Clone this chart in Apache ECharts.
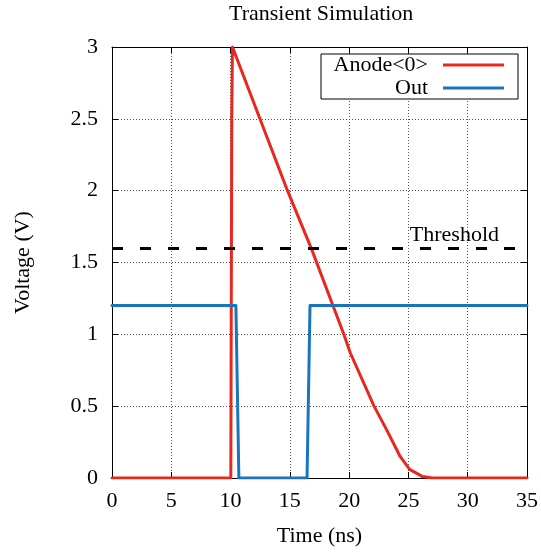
<!DOCTYPE html>
<html>
<head>
<meta charset="utf-8">
<script src="https://cdn.jsdelivr.net/npm/echarts@6/dist/echarts.min.js"></script>
<style>
  html, body { margin: 0; padding: 0; background: #fff; }
  #chart { width: 541px; height: 552px; }
</style>
</head>
<body>
<div id="chart"></div>
<script>
// values
const xTicks = [0, 5, 10, 15, 20, 25, 30, 35];
const yTicks = [0, 0.5, 1, 1.5, 2, 2.5, 3];

const anodeTime = [0, 10.02, 10.1, 10.16, 14.8, 16.8, 19.55, 20.1, 22.1, 23.2, 24.3, 25.1, 26.2, 27, 35];
const anodeVolt = [0, 0, 2.5, 3.0, 2.0, 1.6, 1.0, 0.87, 0.5, 0.33, 0.15, 0.06, 0.01, 0, 0];

const outTime = [0, 10.45, 10.7, 16.45, 16.7, 35];
const outVolt = [1.2, 1.2, 0, 0, 1.2, 1.2];

const thresholdVolt = 1.6;

const FONT = '"Liberation Serif", "Times New Roman", serif';
const FS = 22;

const chart = echarts.init(document.getElementById('chart'));

const pairs = (xs, ys) => xs.map((x, i) => [x, ys[i]]);

const baseAxis = {
    axisLine: { show: true, onZero: false, lineStyle: { color: '#000', width: 1 } },
    axisTick: { show: true, inside: true, length: 6, lineStyle: { color: '#000' } },
    axisLabel: { color: '#000', fontFamily: FONT, fontSize: FS }
};
const gridLines = { show: true, lineStyle: { color: '#555', type: [1, 2], width: 1 } };

chart.setOption({
    animation: false,
    backgroundColor: '#fff',
    title: {
        text: 'Transient Simulation',
        left: 229,
        top: 3,
        padding: 0,
        textStyle: { fontFamily: FONT, fontSize: FS, fontWeight: 'normal', color: '#000' }
    },
    grid: { left: 112, right: 11, top: 47, bottom: 74 },
    legend: {
        data: ['Anode<0>', 'Out'],
        orient: 'vertical',
        align: 'right',
        right: 23,
        top: 54,
        padding: [0, 14, 0, 11],
        itemGap: 1,
        icon: 'rect',
        itemWidth: 61,
        itemHeight: 3,
        borderColor: '#000',
        borderWidth: 1,
        backgroundColor: '#fff',
        formatter: name => '{t|' + name + '}',
        textStyle: {
            rich: {
                t: { width: 96, align: 'right', padding: [0, 10, 0, 0], fontFamily: FONT, fontSize: FS, color: '#000', lineHeight: 22 }
            }
        }
    },
    xAxis: [
        Object.assign({}, baseAxis, {
            type: 'value', min: xTicks[0], max: xTicks[xTicks.length - 1], interval: 5,
            position: 'bottom',
            name: 'Time (ns)', nameLocation: 'middle', nameGap: 47,
            nameTextStyle: { fontFamily: FONT, fontSize: FS, color: '#000' },
            axisLabel: Object.assign({}, baseAxis.axisLabel, { margin: 12 }),
            splitLine: gridLines
        }),
        Object.assign({}, baseAxis, {
            type: 'value', min: xTicks[0], max: xTicks[xTicks.length - 1], interval: 5,
            position: 'top',
            axisLabel: { show: false },
            splitLine: { show: false }
        })
    ],
    yAxis: [
        Object.assign({}, baseAxis, {
            type: 'value', min: yTicks[0], max: yTicks[yTicks.length - 1], interval: 0.5,
            position: 'left',
            name: 'Voltage (V)', nameLocation: 'middle', nameGap: 78,
            nameTextStyle: { fontFamily: FONT, fontSize: FS, color: '#000' },
            axisLabel: Object.assign({}, baseAxis.axisLabel, { margin: 14 }),
            splitLine: gridLines
        }),
        Object.assign({}, baseAxis, {
            type: 'value', min: yTicks[0], max: yTicks[yTicks.length - 1], interval: 0.5,
            position: 'right',
            axisLabel: { show: false },
            splitLine: { show: false }
        })
    ],
    series: [
        {
            name: 'Anode<0>',
            type: 'line',
            data: pairs(anodeTime, anodeVolt),
            symbol: 'none',
            color: '#e8281e',
            lineStyle: { width: 3, join: 'round', cap: 'round' }
        },
        {
            name: 'Out',
            type: 'line',
            data: pairs(outTime, outVolt),
            symbol: 'none',
            color: '#1b75bc',
            lineStyle: { width: 3, join: 'round', cap: 'round' }
        },
        {
            name: 'Threshold',
            type: 'line',
            data: [],
            markLine: {
                silent: true,
                symbol: 'none',
                lineStyle: { color: '#000', width: 3, type: [11, 17] },
                label: {
                    show: true,
                    position: 'insideEndTop',
                    formatter: 'Threshold',
                    distance: [28, 2],
                    fontFamily: FONT,
                    fontSize: FS,
                    color: '#000'
                },
                data: [{ yAxis: thresholdVolt }]
            }
        }
    ]
});

window.addEventListener('resize', () => chart.resize());
</script>
</body>
</html>
